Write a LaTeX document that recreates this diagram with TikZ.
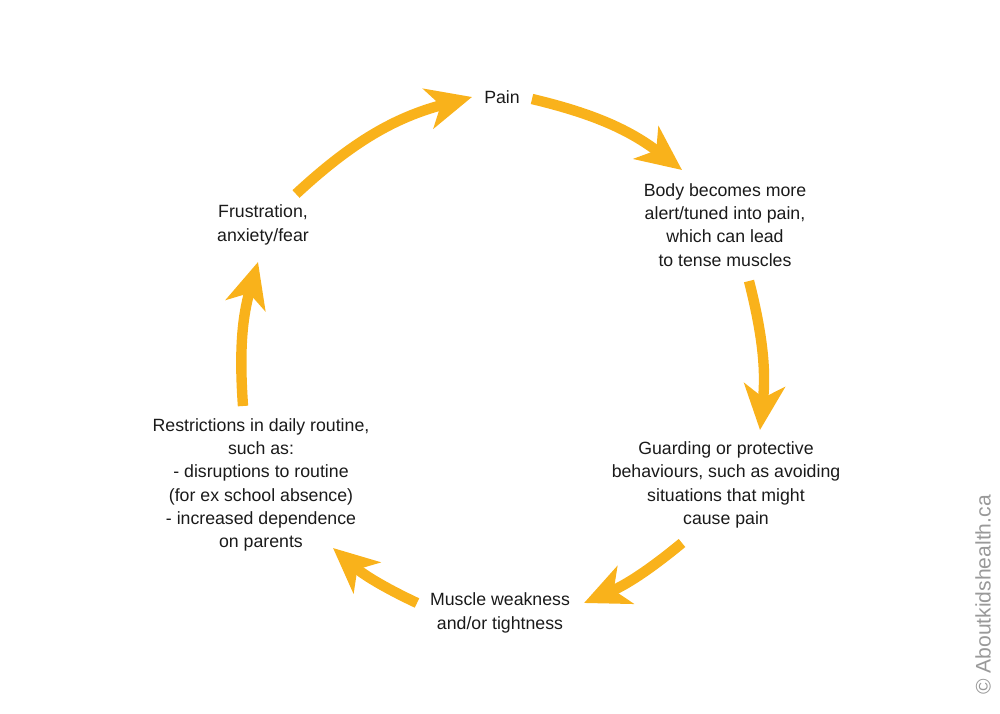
\documentclass[tikz,border=0pt]{standalone}
\usepackage{fontspec}
\setmainfont{Liberation Sans}
\usepackage{xcolor}
\usetikzlibrary{arrows.meta,positioning}
\definecolor{cycleorange}{HTML}{F9B21B}
\definecolor{textgrey}{HTML}{1A1A1A}

\begin{document}
\begin{tikzpicture}
[x=0.025cm,y=0.025cm,
      step label/.style={align=center,text=textgrey,font=\fontsize{12.6}{16.5}\selectfont},
      cycle arrow/.style={draw=cycleorange,line width=7.4pt,
      -{Stealth[length=32pt,width=29pt,inset=9pt]}},
      mark text/.style={text=black!40,font=\fontsize{15}{18}\selectfont,rotate=90}]
 \useasboundingbox (0,0) rectangle (1000,713);
 % steps of the cycle
 \node[step label] (pain) at (502,616) {Pain};
 \node[step label] (alert) at (725,488) {Body becomes more\\alert/tuned into pain,\\which can lead\\to tense muscles};
 \node[step label] (guard) at (726,228) {Guarding or protective\\behaviours, such as avoiding\\situations that might\\cause pain};
 \node[step label] (weak) at (500,100) {Muscle weakness\\and/or tightness};
 \node[step label] (restr) at (261,228) {Restrictions in daily routine,\\such as:\\- disruptions to routine\\(for ex school absence)\\- increased dependence\\on parents};
 \node[step label] (frust) at (263,488) {Frustration,\\anxiety/fear};
 % arrow ends
 \coordinate (a1) at (296,519); \coordinate (b1) at (472,616);
 \coordinate (a2) at (532,614); \coordinate (b2) at (682,543);
 \coordinate (a3) at (749,432); \coordinate (b3) at (760,283);
 \coordinate (a4) at (682,170); \coordinate (b4) at (584,110);
 \coordinate (a5) at (417,110); \coordinate (b5) at (333,165);
 \coordinate (a6) at (243,307); \coordinate (b6) at (258,451);
 \draw[cycle arrow] (a1) to[bend left=14] (b1);
 \draw[cycle arrow] (a2) to[bend left=12] (b2);
 \draw[cycle arrow] (a3) to[bend left=10] (b3);
 \draw[cycle arrow] (a4) to[bend left=8] (b4);
 \draw[cycle arrow] (a5) to[bend left=8] (b5);
 \draw[cycle arrow] (a6) to[bend left=10] (b6);
 \node[mark text] (mark) at (983,118) {\textcopyright\ Aboutkidshealth.ca};
\end{tikzpicture}
\end{document}
